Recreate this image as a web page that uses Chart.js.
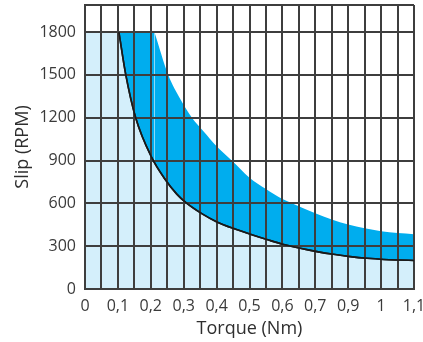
<!DOCTYPE html>
<html>
<head>
<meta charset="utf-8">
<style>
  html, body { margin: 0; padding: 0; background: #ffffff; }
  #wrap { width: 423px; height: 342px; }
</style>
<script src="https://cdn.jsdelivr.net/npm/chart.js@4.4.1/dist/chart.umd.min.js"></script>
</head>
<body>
<div id="wrap"><canvas id="c" width="423" height="342"></canvas></div>
<script>
// Tick labels (as printed on the original, position-indexed)
const xLabels = ['0','0,1','0,2','0,3','0,4','0,5','0,6','0,7','0,9','1','1,1'];
const yTicks = [0, 300, 600, 900, 1200, 1500, 1800];
const slipCap = 1800;
const yTop = 1990;

// Lower boundary curve (black line)
const lowerTorque = [0.103, 0.124, 0.154, 0.203, 0.240, 0.279, 0.307, 0.355, 0.401, 0.456, 0.507, 0.558, 0.604, 0.654, 0.705, 0.755, 0.806, 0.857, 0.908, 0.954, 1.0];
const lowerSlip   = [1800, 1500, 1200, 920, 780, 665, 605, 528, 470, 420, 380, 343, 312, 285, 262, 243, 227, 215, 207, 203, 200];

// Upper boundary curve (edge of dark blue band)
const upperTorque = [0.211, 0.253, 0.290, 0.325, 0.360, 0.400, 0.446, 0.500, 0.550, 0.600, 0.634, 0.700, 0.750, 0.800, 0.850, 0.900, 0.950, 1.0];
const upperSlip   = [1800, 1500, 1330, 1200, 1105, 1000, 900, 780, 700, 630, 596, 530, 487, 452, 425, 405, 392, 384];

const toPts = (xs, ys) => xs.map((x, i) => ({ x: x, y: ys[i] }));
const lowerPts = toPts(lowerTorque, lowerSlip);
const upperPts = toPts(upperTorque, upperSlip);
const lightCap = [{ x: 0, y: slipCap }, { x: lowerTorque[0], y: slipCap }];
const darkCap  = [{ x: 0, y: slipCap }, { x: upperTorque[0], y: slipCap }];

const xGridVals = [];
for (let i = 0; i <= 20; i++) xGridVals.push(i * 0.05);

const FONT = "'Open Sans', 'DejaVu Sans', sans-serif";
const GRID = '#3e3e3e';
const LIGHT = '#d4effb';
const DARK = '#00adee';

const lineOnTop = {
  id: 'lineOnTop',
  afterDraw(chart) {
    const meta = chart.getDatasetMeta(0);
    const ctx = chart.ctx;
    const a = chart.chartArea;
    ctx.save();
    ctx.beginPath();
    ctx.rect(a.left, a.top, a.right - a.left, a.bottom - a.top);
    ctx.clip();
    meta.dataset.draw(ctx, a);
    ctx.restore();
  }
};

const area = (data, color, smooth) => ({
  data: data,
  borderWidth: 0,
  borderColor: 'rgba(0,0,0,0)',
  backgroundColor: color,
  pointRadius: 0,
  fill: 'origin',
  tension: 0,
  cubicInterpolationMode: smooth ? 'monotone' : 'default'
});

new Chart(document.getElementById('c'), {
  type: 'line',
  data: {
    datasets: [
      {
        data: lowerPts,
        borderColor: '#1a1a1a',
        borderWidth: 1.6,
        pointRadius: 0,
        fill: false,
        cubicInterpolationMode: 'monotone'
      },
      area(lightCap, LIGHT, false),
      area(lowerPts, LIGHT, true),
      area(darkCap, DARK, false),
      area(upperPts, DARK, true)
    ]
  },
  options: {
    responsive: false,
    animation: false,
    layout: { padding: { left: 0, right: 9, top: 5, bottom: 0 } },
    plugins: { legend: { display: false }, tooltip: { enabled: false } },
    scales: {
      x: {
        type: 'linear',
        min: 0,
        max: 1.0,
        afterBuildTicks: s => { s.ticks = xGridVals.map(v => ({ value: v })); },
        afterFit: s => { s.height = 53; s.paddingLeft = 0; s.paddingRight = 0; },
        grid: { color: GRID, lineWidth: 2, drawTicks: false, z: 1 },
        border: { color: GRID, width: 2, z: 2 },
        ticks: {
          autoSkip: false,
          maxRotation: 0,
          padding: 8,
          color: '#3a3a3a',
          font: { family: FONT, size: 16 },
          callback: (v, i) => (i % 2 === 0 ? xLabels[i / 2] : '')
        },
        title: {
          display: true,
          text: 'Torque (Nm)',
          color: '#2e2e2e',
          font: { family: FONT, size: 18 },
          padding: { top: 2, bottom: 2 }
        }
      },
      y: {
        type: 'linear',
        min: 0,
        max: yTop,
        afterBuildTicks: s => { s.ticks = yTicks.concat([yTop]).map(v => ({ value: v })); },
        afterFit: s => { s.width = 85; s.paddingTop = 0; s.paddingBottom = 0; },
        grid: { color: GRID, lineWidth: 2, drawTicks: false, z: 1 },
        border: { color: GRID, width: 2, z: 2 },
        ticks: {
          autoSkip: false,
          padding: 9,
          color: '#3a3a3a',
          font: { family: FONT, size: 16 },
          callback: v => (v === yTop ? '' : String(v))
        },
        title: {
          display: true,
          text: 'Slip (RPM)',
          color: '#2e2e2e',
          font: { family: FONT, size: 18 },
          padding: { top: 12, bottom: 4 }
        }
      }
    }
  },
  plugins: [lineOnTop]
});
</script>
</body>
</html>
